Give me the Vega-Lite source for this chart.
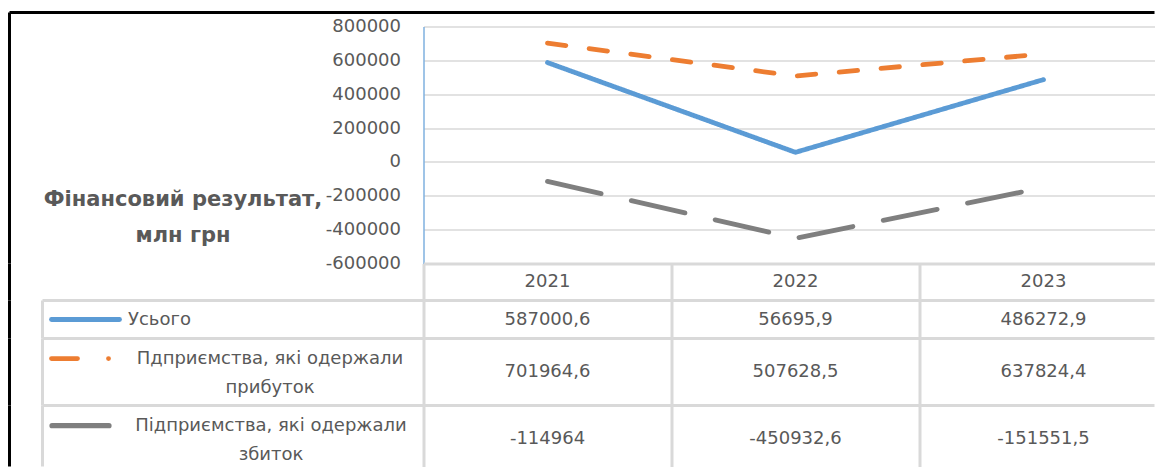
{
  "$schema": "https://vega.github.io/schema/vega-lite/v6.json",
  "background": "white",
  "autosize": {"type": "pad"},
  "padding": {"left": 7.5, "top": 10.5, "right": 0, "bottom": 0},
  "spacing": 0,
  "bounds": "flush",
  "config": {
    "view": {"stroke": null},
    "font": "DejaVu Sans",
    "axis": {"labelFont": "DejaVu Sans", "labelColor": "#595959", "labelFontSize": 18, "titleFont": "DejaVu Sans"},
    "text": {"font": "DejaVu Sans", "fontSize": 18, "color": "#595959"},
    "locale": {"number": {"decimal": ",", "thousands": " ", "grouping": [3], "currency": ["", ""], "minus": "-"}}
  },
  "datasets": {
    "fin": [
      {"series": "Усього", "year": 2021, "value": 587000.6},
      {"series": "Усього", "year": 2022, "value": 56695.9},
      {"series": "Усього", "year": 2023, "value": 486272.9},
      {"series": "Пдприємства, які одержали прибуток", "year": 2021, "value": 701964.6},
      {"series": "Пдприємства, які одержали прибуток", "year": 2022, "value": 507628.5},
      {"series": "Пдприємства, які одержали прибуток", "year": 2023, "value": 637824.4},
      {"series": "Підприємства, які одержали збиток", "year": 2021, "value": -114964},
      {"series": "Підприємства, які одержали збиток", "year": 2022, "value": -450932.6},
      {"series": "Підприємства, які одержали збиток", "year": 2023, "value": -151551.5}
    ]
  },
  "vconcat": [
    {
      "width": 731,
      "height": 237,
      "layer": [
        {
          "data": {"name": "fin"},
          "mark": {"type": "line", "strokeWidth": 4.8, "strokeCap": "round", "strokeJoin": "round"},
          "encoding": {
            "x": {"field": "year", "type": "quantitative", "scale": {"domain": [2020.5, 2023.447581], "nice": false, "zero": false}, "axis": null},
            "y": {
              "field": "value", "type": "quantitative",
              "scale": {"domain": [-600000, 800000], "nice": false, "zero": false},
              "axis": {
                "values": [-600000, -400000, -200000, 0, 200000, 400000, 600000, 800000],
                "tickCount": 8,
                "labelOverlap": false,
                "format": "d",
                "grid": true, "gridColor": "#d9d9d9", "gridWidth": 1.5,
                "domain": true, "domainColor": "#7fb0df", "domainWidth": 1.5,
                "ticks": false, "tickSize": 0,
                "labelPadding": 23,
                "title": ["Фінансовий результат,", "млн грн"],
                "titleFontSize": 21, "titleFontWeight": "bold", "titleColor": "#595959",
                "titleAngle": 0, "titleX": -241, "titleY": 179,
                "titleAlign": "center", "titleBaseline": "alphabetic", "titleLineHeight": 36
              }
            },
            "color": {"field": "series", "type": "nominal", "scale": {"domain": ["Усього", "Пдприємства, які одержали прибуток", "Підприємства, які одержали збиток"], "range": ["#5b9bd5", "#ed7d31", "#7f7f7f"]}, "legend": null},
            "strokeDash": {"field": "series", "type": "nominal", "scale": {"domain": ["Усього", "Пдприємства, які одержали прибуток", "Підприємства, які одержали збиток"], "range": [[1, 0], [18.5, 23.5], [55, 31]]}, "legend": null}
          }
        },
        {
          "data": {"values": [{}]},
          "mark": {"type": "rule", "color": "#000000", "strokeWidth": 3},
          "encoding": {
            "x": {"datum": 2018.830645, "type": "quantitative", "scale": {"domain": [2020.5, 2023.447581], "nice": false, "zero": false}, "axis": null},
            "x2": {"datum": 2023.447581},
            "y": {"datum": 882700, "type": "quantitative", "scale": {"domain": [-600000, 800000], "nice": false, "zero": false}}
          }
        },
        {
          "data": {"values": [{}]},
          "mark": {"type": "rule", "color": "#000000", "strokeWidth": 3},
          "encoding": {
            "x": {"datum": 2018.830645, "type": "quantitative", "scale": {"domain": [2020.5, 2023.447581], "nice": false, "zero": false}, "axis": null},
            "y": {"datum": 882700, "type": "quantitative", "scale": {"domain": [-600000, 800000], "nice": false, "zero": false}},
            "y2": {"datum": -600000}
          }
        }
      ]
    },
    {
      "width": 731,
      "height": 37,
      "layer": [
        {
          "data": {"name": "fin"},
          "transform": [{"filter": "datum.series === 'Усього'"}],
          "mark": {"type": "text", "align": "center", "baseline": "middle"},
          "encoding": {
            "x": {"field": "year", "type": "quantitative", "scale": {"domain": [2020.5, 2023.447581], "nice": false, "zero": false},
              "axis": {"orient": "top", "values": [2020.5, 2021.5, 2022.5], "tickCount": 3, "grid": true, "gridColor": "#d9d9d9", "gridWidth": 3, "labels": false, "ticks": false, "domain": true, "domainColor": "#d9d9d9", "domainWidth": 3, "title": null}},
            "text": {"field": "year", "type": "quantitative", "format": "d"}
          }
        },
        {
          "data": {"values": [{}]},
          "mark": {"type": "rule", "color": "#000000", "strokeWidth": 3},
          "encoding": {
            "x": {"datum": 2018.830645, "type": "quantitative", "scale": {"domain": [2020.5, 2023.447581], "nice": false, "zero": false}}
          }
        }
      ]
    },
    {
      "width": 731,
      "height": 38,
      "data": {"name": "fin"},
      "transform": [{"filter": "datum.series === 'Усього'"}],
      "layer": [
        {
          "mark": {"type": "text", "align": "center", "baseline": "middle"},
          "encoding": {
            "x": {"field": "year", "type": "quantitative", "scale": {"domain": [2020.5, 2023.447581], "nice": false, "zero": false},
              "axis": {"orient": "bottom", "values": [2020.5, 2021.5, 2022.5], "tickCount": 3, "grid": true, "gridColor": "#d9d9d9", "gridWidth": 3, "labels": false, "ticks": false, "domain": false, "title": null}},
            "y": {"field": "series", "type": "nominal", "scale": {"type": "band", "domain": ["Усього"], "paddingInner": 0, "paddingOuter": 0},
              "axis": {"title": null, "domain": false, "ticks": false, "tickSize": 0, "grid": false, "labelAlign": "left", "labelBaseline": "middle", "labelPadding": 296, "labelLimit": 0}},
            "text": {"field": "value", "type": "quantitative", "format": ".1~f"}
          }
        },
        {
          "transform": [{"filter": "datum.year === 2021"}],
          "mark": {"type": "rule", "color": "#d9d9d9", "strokeWidth": 3},
          "encoding": {
            "x": {"datum": 2018.96371, "type": "quantitative", "scale": {"domain": [2020.5, 2023.447581], "nice": false, "zero": false}},
            "x2": {"datum": 2023.447581},
            "y": {"field": "series", "type": "nominal", "scale": {"type": "band", "domain": ["Усього"], "paddingInner": 0, "paddingOuter": 0}, "bandPosition": 0}
          }
        },
        {
          "transform": [{"filter": "datum.year === 2021"}],
          "mark": {"type": "rule", "color": "#d9d9d9", "strokeWidth": 3},
          "encoding": {
            "x": {"datum": 2018.96371, "type": "quantitative", "scale": {"domain": [2020.5, 2023.447581], "nice": false, "zero": false}}
          }
        },
        {
          "transform": [{"filter": "datum.year === 2021"}],
          "mark": {"type": "rule", "color": "#000000", "strokeWidth": 3},
          "encoding": {
            "x": {"datum": 2018.830645, "type": "quantitative", "scale": {"domain": [2020.5, 2023.447581], "nice": false, "zero": false}}
          }
        },
        {
          "transform": [{"filter": "datum.year === 2021"}],
          "mark": {"type": "rule", "strokeWidth": 4.8, "strokeCap": "round"},
          "encoding": {
            "x": {"datum": 2019.0, "type": "quantitative", "scale": {"domain": [2020.5, 2023.447581], "nice": false, "zero": false}},
            "x2": {"datum": 2019.27419},
            "y": {"field": "series", "type": "nominal", "scale": {"type": "band", "domain": ["Усього"], "paddingInner": 0, "paddingOuter": 0}},
            "color": {"field": "series", "type": "nominal", "scale": {"domain": ["Усього", "Пдприємства, які одержали прибуток", "Підприємства, які одержали збиток"], "range": ["#5b9bd5", "#ed7d31", "#7f7f7f"]}, "legend": null}
          }
        }
      ]
    },
    {
      "width": 731,
      "height": 67,
      "data": {"name": "fin"},
      "transform": [{"filter": "datum.series === 'Пдприємства, які одержали прибуток'"}],
      "layer": [
        {
          "mark": {"type": "text", "align": "center", "baseline": "middle"},
          "encoding": {
            "x": {"field": "year", "type": "quantitative", "scale": {"domain": [2020.5, 2023.447581], "nice": false, "zero": false},
              "axis": {"orient": "bottom", "values": [2020.5, 2021.5, 2022.5], "tickCount": 3, "grid": true, "gridColor": "#d9d9d9", "gridWidth": 3, "labels": false, "ticks": false, "domain": false, "title": null}},
            "y": {"field": "series", "type": "nominal", "scale": {"type": "band", "domain": ["Пдприємства, які одержали прибуток"], "paddingInner": 0, "paddingOuter": 0},
              "axis": {"title": null, "domain": false, "ticks": false, "tickSize": 0, "grid": false, "labelAlign": "center", "labelBaseline": "middle", "labelPadding": 154, "labelLimit": 0, "labelLineHeight": 29, "labelOffset": -13.5,
                "labelExpr": "[slice(datum.label, 0, lastindexof(datum.label, ' ')), slice(datum.label, lastindexof(datum.label, ' ') + 1)]"}},
            "text": {"field": "value", "type": "quantitative", "format": ".1~f"}
          }
        },
        {
          "transform": [{"filter": "datum.year === 2021"}],
          "mark": {"type": "rule", "color": "#d9d9d9", "strokeWidth": 3},
          "encoding": {
            "x": {"datum": 2018.96371, "type": "quantitative", "scale": {"domain": [2020.5, 2023.447581], "nice": false, "zero": false}},
            "x2": {"datum": 2023.447581},
            "y": {"field": "series", "type": "nominal", "scale": {"type": "band", "domain": ["Пдприємства, які одержали прибуток"], "paddingInner": 0, "paddingOuter": 0}, "bandPosition": 0}
          }
        },
        {
          "transform": [{"filter": "datum.year === 2021"}],
          "mark": {"type": "rule", "color": "#d9d9d9", "strokeWidth": 3},
          "encoding": {
            "x": {"datum": 2018.96371, "type": "quantitative", "scale": {"domain": [2020.5, 2023.447581], "nice": false, "zero": false}}
          }
        },
        {
          "transform": [{"filter": "datum.year === 2021"}],
          "mark": {"type": "rule", "color": "#000000", "strokeWidth": 3},
          "encoding": {
            "x": {"datum": 2018.830645, "type": "quantitative", "scale": {"domain": [2020.5, 2023.447581], "nice": false, "zero": false}}
          }
        },
        {
          "transform": [{"filter": "datum.year === 2021"}],
          "mark": {"type": "rule", "strokeWidth": 4.8, "strokeCap": "round", "strokeDash": [26, 31, 0.1, 60]},
          "encoding": {
            "x": {"datum": 2019.0, "type": "quantitative", "scale": {"domain": [2020.5, 2023.447581], "nice": false, "zero": false}},
            "x2": {"datum": 2019.23},
            "y": {"field": "series", "type": "nominal", "scale": {"type": "band", "domain": ["Пдприємства, які одержали прибуток"], "paddingInner": 0, "paddingOuter": 0}, "bandPosition": 0.3},
            "color": {"field": "series", "type": "nominal", "scale": {"domain": ["Усього", "Пдприємства, які одержали прибуток", "Підприємства, які одержали збиток"], "range": ["#5b9bd5", "#ed7d31", "#7f7f7f"]}, "legend": null}
          }
        }
      ]
    },
    {
      "width": 731,
      "height": 61,
      "data": {"name": "fin"},
      "transform": [{"filter": "datum.series === 'Підприємства, які одержали збиток'"}],
      "layer": [
        {
          "mark": {"type": "text", "align": "center", "baseline": "middle", "dy": 2.5},
          "encoding": {
            "x": {"field": "year", "type": "quantitative", "scale": {"domain": [2020.5, 2023.447581], "nice": false, "zero": false},
              "axis": {"orient": "bottom", "values": [2020.5, 2021.5, 2022.5], "tickCount": 3, "grid": true, "gridColor": "#d9d9d9", "gridWidth": 3, "labels": false, "ticks": false, "domain": false, "title": null}},
            "y": {"field": "series", "type": "nominal", "scale": {"type": "band", "domain": ["Підприємства, які одержали збиток"], "paddingInner": 0, "paddingOuter": 0},
              "axis": {"title": null, "domain": false, "ticks": false, "tickSize": 0, "grid": false, "labelAlign": "center", "labelBaseline": "middle", "labelPadding": 153, "labelLimit": 0, "labelLineHeight": 29, "labelOffset": -10.5,
                "labelExpr": "[slice(datum.label, 0, lastindexof(datum.label, ' ')), slice(datum.label, lastindexof(datum.label, ' ') + 1)]"}},
            "text": {"field": "value", "type": "quantitative", "format": ".1~f"}
          }
        },
        {
          "transform": [{"filter": "datum.year === 2021"}],
          "mark": {"type": "rule", "color": "#d9d9d9", "strokeWidth": 3},
          "encoding": {
            "x": {"datum": 2018.96371, "type": "quantitative", "scale": {"domain": [2020.5, 2023.447581], "nice": false, "zero": false}},
            "x2": {"datum": 2023.447581},
            "y": {"field": "series", "type": "nominal", "scale": {"type": "band", "domain": ["Підприємства, які одержали збиток"], "paddingInner": 0, "paddingOuter": 0}, "bandPosition": 0}
          }
        },
        {
          "transform": [{"filter": "datum.year === 2021"}],
          "mark": {"type": "rule", "color": "#d9d9d9", "strokeWidth": 3},
          "encoding": {
            "x": {"datum": 2018.96371, "type": "quantitative", "scale": {"domain": [2020.5, 2023.447581], "nice": false, "zero": false}}
          }
        },
        {
          "transform": [{"filter": "datum.year === 2021"}],
          "mark": {"type": "rule", "color": "#000000", "strokeWidth": 3},
          "encoding": {
            "x": {"datum": 2018.830645, "type": "quantitative", "scale": {"domain": [2020.5, 2023.447581], "nice": false, "zero": false}}
          }
        },
        {
          "transform": [{"filter": "datum.year === 2021"}],
          "mark": {"type": "rule", "strokeWidth": 5.2, "strokeCap": "round"},
          "encoding": {
            "x": {"datum": 2019.00202, "type": "quantitative", "scale": {"domain": [2020.5, 2023.447581], "nice": false, "zero": false}},
            "x2": {"datum": 2019.23185},
            "y": {"field": "series", "type": "nominal", "scale": {"type": "band", "domain": ["Підприємства, які одержали збиток"], "paddingInner": 0, "paddingOuter": 0}, "bandPosition": 0.33},
            "color": {"field": "series", "type": "nominal", "scale": {"domain": ["Усього", "Пдприємства, які одержали прибуток", "Підприємства, які одержали збиток"], "range": ["#5b9bd5", "#ed7d31", "#7f7f7f"]}, "legend": null}
          }
        }
      ]
    }
  ]
}
